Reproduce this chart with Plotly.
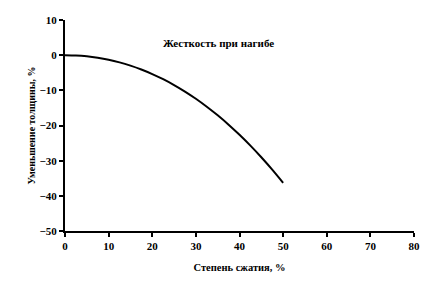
import plotly.graph_objects as go

compression = [0, 2.5, 5, 7.5, 10, 12.5, 15, 17.5, 20, 22.5, 25, 27.5, 30,
               32.5, 35, 37.5, 40, 42.5, 45, 47.5, 50]
thickness_change = [0, -0.08, -0.32, -0.73, -1.30, -2.05, -2.98, -4.08, -5.37, -6.84, -8.50,
                    -10.35, -12.40, -14.66, -17.11, -19.77, -22.65, -25.73, -29.03, -32.55, -36.30]

x_ticks = [0, 10, 20, 30, 40, 50, 60, 70, 80]
y_ticks = [10, 0, -10, -20, -30, -40, -50]

title_text = "Жесткость при нагибе"
x_title = "Степень сжатия, %"
y_title = "Уменьшение толщины, %"

font_family = "Liberation Serif, Times New Roman, DejaVu Serif, serif"

fig = go.Figure()
fig.add_trace(go.Scatter(
    x=compression, y=thickness_change, mode="lines",
    line=dict(color="black", width=2, shape="spline", smoothing=0.8),
    showlegend=False, hoverinfo="skip"))

fig.update_layout(
    width=434, height=284,
    margin=dict(l=65, r=20, t=20, b=46),
    paper_bgcolor="white", plot_bgcolor="white",
    font=dict(family=font_family, color="black", size=11),
    annotations=[dict(
        text="<b>" + title_text + "</b>", x=0.44, y=0.93,
        xref="paper", yref="paper", showarrow=False,
        font=dict(family=font_family, size=11, color="black"))],
)
fig.update_xaxes(
    range=[0, 80], tickvals=x_ticks, ticktext=[f"<b>{v}</b>" for v in x_ticks],
    showline=True, linecolor="black", linewidth=2, mirror=False,
    ticks="outside", ticklen=4, tickwidth=1.5, tickcolor="black",
    showgrid=False, zeroline=False,
    title=dict(text="<b>" + x_title + "</b>", standoff=12, font=dict(family=font_family, size=10.5)),
    tickfont=dict(family=font_family, size=11),
)
fig.update_yaxes(
    range=[-50, 10], tickvals=y_ticks,
    ticktext=[("<b>−" + str(-v) + "</b>") if v < 0 else f"<b>{v}</b>" for v in y_ticks],
    showline=True, linecolor="black", linewidth=2, mirror=False,
    ticks="outside", ticklen=4, tickwidth=1.5, tickcolor="black",
    showgrid=False, zeroline=False,
    title=dict(text="<b>" + y_title + "</b>", standoff=2, font=dict(family=font_family, size=10)),
    tickfont=dict(family=font_family, size=11),
)

fig.write_html("out.html")
